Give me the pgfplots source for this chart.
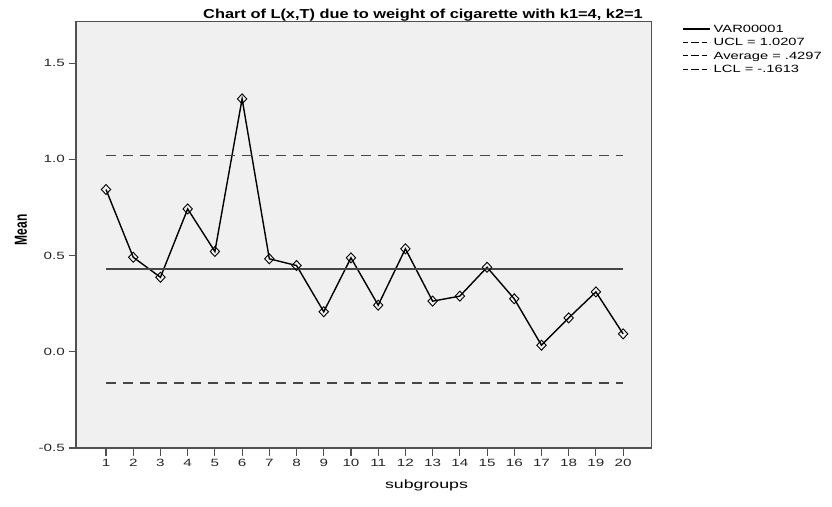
\documentclass[border=0pt]{standalone}
\usepackage{fontspec}
\setmainfont{Liberation Sans}
\usepackage{graphicx}
\usepackage{pgfplots}
\pgfplotsset{compat=1.18}
\definecolor{bgc}{RGB}{240,240,240}
\definecolor{frm}{RGB}{80,80,80}
\definecolor{ctl}{RGB}{70,70,70}
\begin{document}
\begin{tikzpicture}[x=1pt,y=1pt]
\useasboundingbox (0,0) rectangle (832,506);
\begin{axis}[
  at={(76pt,58pt)}, anchor=south west,
  scale only axis, width=575.7pt, height=426.5pt,
  xmin=-0.103, xmax=21.05, ymin=-0.5, ymax=1.716,
  axis background/.style={fill=bgc},
  axis line style={frm, line width=1.3pt},
  xtick={1,2,...,20},
  ytick={-0.5,0,0.5,1,1.5},
  xticklabel style={/pgf/number format/.cd, assume math mode=true},
  yticklabel style={xshift=1pt, /pgf/number format/.cd, fixed, fixed zerofill, precision=1, assume math mode=true},
  tick align=outside, xtick pos=bottom, ytick pos=left,
  major tick length=7.5pt,
  tick style={frm, line width=1.1pt},
  ticklabel style={font=\fontsize{10.5}{12}\selectfont, text=black!85, xscale=1.45},
  legend style={at={(1.0526,0.999)}, anchor=north west, draw=none, fill=none,
    font=\fontsize{10.5}{12}\selectfont, row sep=0pt, inner sep=0pt,
    nodes={inner sep=0.5pt, text height=9.5pt, text depth=3pt, xscale=1.4}},
  legend cell align=left,
  legend image code/.code={\draw[#1] (0pt,0pt) -- (27pt,0pt);},
]
\addplot[black, line width=1.4pt, mark=diamond, mark size=5pt,
  mark options={solid, xscale=1.25, fill=none, line width=0.9pt}] coordinates {
(1,0.843) (2,0.491) (3,0.387) (4,0.742) (5,0.521) (6,1.314) (7,0.483) (8,0.448) (9,0.208) (10,0.488)
(11,0.242) (12,0.535) (13,0.263) (14,0.289) (15,0.439) (16,0.275) (17,0.034) (18,0.176) (19,0.311) (20,0.093)};
\addlegendentry{\,VAR00001}
\addplot[ctl, line width=1.6pt, dash pattern=on 10pt off 7pt, forget plot] coordinates {(1,1.0207) (20,1.0207)};
\addplot[ctl, line width=1.6pt, forget plot] coordinates {(1,0.4297) (20,0.4297)};
\addplot[ctl, line width=1.6pt, dash pattern=on 10pt off 7pt, forget plot] coordinates {(1,-0.1613) (20,-0.1613)};
\addlegendimage{black, line width=1pt, dash pattern=on 5pt off 3pt on 8pt off 3pt on 5pt off 3pt}
\addlegendentry{\,UCL = 1.0207}
\addlegendimage{black, line width=1pt, dash pattern=on 5pt off 3pt on 8pt off 3pt on 5pt off 3pt}
\addlegendentry{\,Average = .4297}
\addlegendimage{black, line width=1pt, dash pattern=on 5pt off 3pt on 8pt off 3pt on 5pt off 3pt}
\addlegendentry{\,LCL = -.1613}
\end{axis}
\node[xscale=1.26, font=\fontsize{13}{14}\selectfont\bfseries] at (423,490.5) {Chart of L(x,T) due to weight of cigarette with k1=4, k2=1};
\node[rotate=90, font=\fontsize{12}{14}\selectfont\bfseries] at (21,276) {\scalebox{1}[1.45]{Mean}};
\node[xscale=1.48, font=\fontsize{12}{13}\selectfont] at (426.5,21) {subgroups};
\end{tikzpicture}
\end{document}
